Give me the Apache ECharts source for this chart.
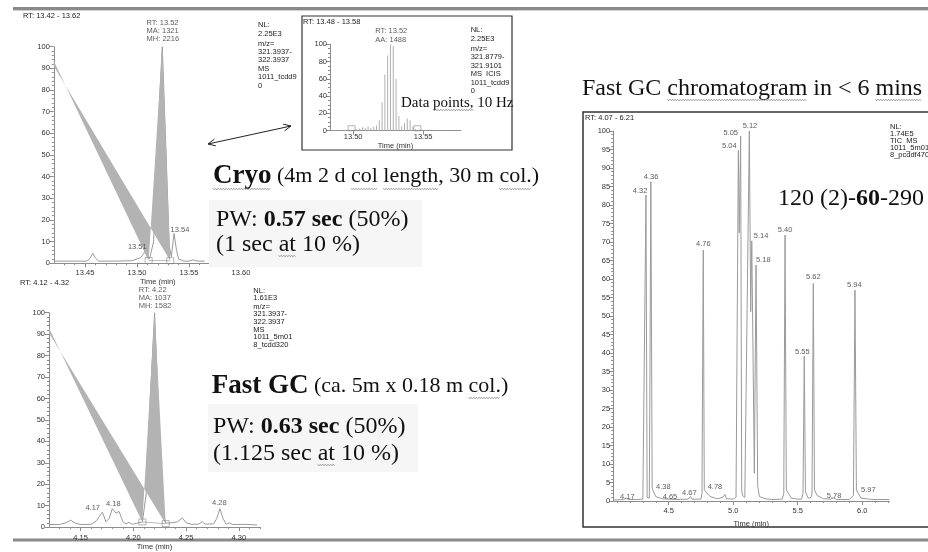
<!DOCTYPE html>
<html><head><meta charset="utf-8">
<script src="https://cdn.jsdelivr.net/npm/echarts@6/dist/echarts.min.js"></script>
<style>html,body{margin:0;padding:0;background:#fff}#c{width:928px;height:552px}</style>
</head><body><div id="c"></div><script>
// ---------- DATA ----------
// Cryo (13.42 - 13.62)
const cryoTrace = [[13.42,1.0],[13.44,1.0],[13.452,1.0],[13.455,2.5],[13.4575,4.6],[13.460,2.5],[13.463,1.0],[13.48,1.0],[13.495,1.2],[13.500,2.0],[13.503,2.5],[13.505,3.5],[13.5077,5.4],[13.510,3],[13.512,2],[13.516,10],[13.520,60],[13.5243,100],[13.528,50],[13.531,8],[13.533,3],[13.5356,13.8],[13.538,6],[13.540,2],[13.545,1.0],[13.550,1.0],[13.554,1.6],[13.558,1.0],[13.565,1.0]];
const cryoArea = [[13.42,93.4],[13.5112,1.3],[13.5243,100],[13.532,1.2],[13.42,91.1]];
const cryoBoxes = [[13.5112,1.3],[13.532,1.2]];
const cryoPeakLabels = [[13.5003,7.7,'13.51'],[13.5413,15.4,'13.54']];
const cryoInfo = [[13.5087,107.2,'RT: 13.52\nMA: 1321\nMH: 2216']];
const cryoTicks = [13.45,13.50,13.55,13.60];
const cryoMinor = [13.43,13.44,13.46,13.47,13.48,13.49,13.51,13.52,13.53,13.54,13.56,13.57,13.58,13.59,13.61,13.62];

// Fast GC (4.12 - 4.32)
const fastTrace = [[4.12,1.2],[4.13,1.2],[4.136,2],[4.1406,3.2],[4.145,1.8],[4.15,1.2],[4.16,1.3],[4.165,3],[4.1706,7],[4.174,2.5],[4.177,4],[4.18,8.6],[4.1835,6.5],[4.1864,7.3],[4.19,2.5],[4.193,1.5],[4.1958,2.2],[4.199,1.3],[4.203,1.8],[4.2085,2.4],[4.212,15],[4.216,60],[4.2201,100],[4.224,50],[4.228,8],[4.2306,1.8],[4.236,2],[4.242,2.5],[4.2464,4.3],[4.25,2],[4.255,1.3],[4.262,1.4],[4.2653,2.5],[4.268,1.4],[4.276,1.5],[4.279,4],[4.282,8.6],[4.285,4],[4.288,1.3],[4.291,2],[4.294,1.2],[4.305,1.3],[4.3174,1.0]];
const fastArea = [[4.12,92.9],[4.2085,2.4],[4.2201,100],[4.2306,1.6],[4.12,90.5]];
const fastBoxes = [[4.2085,2.4],[4.2306,1.6]];
const fastPeakLabels = [[4.1614,8.9,'4.17'],[4.1809,10.8,'4.18'],[4.2814,11.2,'4.28']];
const fastInfo = [[4.2046,106.9,'RT: 4.22\nMA: 1037\nMH: 1582']];
const fastTicks = [4.15,4.20,4.25,4.30];
const fastMinor = [4.13,4.14,4.16,4.17,4.18,4.19,4.21,4.22,4.23,4.24,4.26,4.27,4.28,4.29,4.31,4.32];

// Full fast GC chromatogram (4.07 - 6.21)
const ticTrace = [[4.07,0.3],[4.10,0.3],[4.15,0.4],[4.17,0.8],[4.19,0.4],[4.25,0.4],[4.30,0.5],[4.315,1],[4.324,82.7],[4.333,1.0],[4.350,0.8],[4.362,86.3],[4.372,3.5],[4.38,2.8],[4.40,1.2],[4.45,0.6],[4.55,0.4],[4.65,0.5],[4.67,1.2],[4.68,0.5],[4.75,0.5],[4.758,2],[4.768,67.8],[4.776,3],[4.785,2.5],[4.82,1.2],[4.88,0.6],[4.92,1.0],[4.935,1.8],[4.95,0.6],[5.00,0.5],[5.022,1],[5.040,94.8],[5.047,72.5],[5.058,98.6],[5.066,3],[5.072,1.5],[5.079,2],[5.09,1],[5.105,1.5],[5.125,100],[5.136,51.2],[5.144,70.3],[5.164,7.5],[5.177,63.8],[5.19,4],[5.203,1.2],[5.25,0.6],[5.30,0.4],[5.38,0.5],[5.392,2],[5.402,71.9],[5.412,3],[5.43,2],[5.45,0.8],[5.50,0.5],[5.53,0.5],[5.541,2],[5.551,39.2],[5.560,2.5],[5.58,0.8],[5.60,0.8],[5.611,2],[5.621,58.8],[5.630,3],[5.65,1.5],[5.70,0.6],[5.75,0.5],[5.78,0.8],[5.80,0.4],[5.90,0.4],[5.932,1.5],[5.944,57],[5.955,3],[5.97,2],[5.99,0.8],[6.05,0.5],[6.10,0.4],[6.21,0.4]];
const ticPeakLabels = [[4.278,83.8,'4.32'],[4.363,87.6,'4.36'],[4.981,99.5,'5.05'],[5.130,101.4,'5.12'],[4.970,95.9,'5.04'],[5.216,71.6,'5.14'],[5.402,73.2,'5.40'],[4.768,69.4,'4.76'],[5.233,65.1,'5.18'],[5.621,60.5,'5.62'],[5.939,58.4,'5.94'],[5.536,40.4,'5.55'],[4.179,1.2,'4.17'],[4.458,3.9,'4.38'],[4.510,1.2,'4.65'],[4.660,2.1,'4.67'],[4.859,3.7,'4.78'],[5.782,1.4,'5.78'],[6.048,3.0,'5.97']];
const ticTicks = [4.5,5.0,5.5,6.0];
const ticMinor = [4.1,4.2,4.3,4.4,4.6,4.7,4.8,4.9,5.1,5.2,5.3,5.4,5.6,5.7,5.8,5.9,6.1,6.2];

// Inset: data points at ~10 Hz (13.48 - 13.58)
const insetTimes = [13.4847,13.4867,13.4887,13.4907,13.4927,13.4947,13.4967,13.4987,13.5007,13.5027,13.5047,13.5067,13.5087,13.5107,13.5127,13.5147,13.5167,13.5187,13.5207,13.5227,13.5247,13.5267,13.5287,13.5307,13.5327,13.5347,13.5367,13.5387,13.5407,13.5427,13.5447,13.5467,13.5487,13.5507,13.5527,13.5547,13.5567,13.5587,13.5607,13.5627,13.5647,13.5667,13.5687,13.5707,13.5727,13.5747,13.5767];
const insetValues = [0.5,0.8,0.5,0.8,1,0.8,1.5,1.2,1.5,2,2.5,4,3,5,3.5,4.5,6,12,33,65,87,100,98,60,17,5,9,14,12,5,2,1,1.5,1,0.8,1,0.8,1,0.6,0.8,0.5,0.8,0.6,0.5,0.6,0.5,0.5];
const insetBoxes = [[13.4989,2.8],[13.5459,2.8]];
const insetInfo = [[13.5155,110.4,'RT: 13.52\nAA: 1488']];
const insetTicks = [13.50,13.55];

// ---------- STYLE ----------
const SANS = '"Liberation Sans", Arial, sans-serif';
const SERIF = '"Liberation Serif", "Times New Roman", serif';
const AX = '#8c8c8c', LBL = '#333', TRACE = '#9a9a9a', FILL = '#b3b3b3';

function xMain(grid, min, max, ticks, dec, margin, nameGap, extra) {
  return Object.assign({
    type: 'value', gridIndex: grid, min: min, max: max, position: 'bottom',
    axisLine: {show: true, onZero: false, lineStyle: {color: AX, width: 1}},
    axisTick: {show: true, customValues: ticks, length: 4, lineStyle: {color: AX}},
    axisLabel: {customValues: ticks, margin: margin, fontSize: 7.5, fontFamily: SANS, color: LBL,
      formatter: v => v.toFixed(dec)},
    splitLine: {show: false},
    name: 'Time (min)', nameLocation: 'middle', nameGap: nameGap,
    nameTextStyle: {fontSize: 7.5, fontFamily: SANS, color: LBL}
  }, extra || {});
}
function xMinor(grid, min, max, ticks) {
  return {type: 'value', gridIndex: grid, min: min, max: max, position: 'bottom',
    axisLine: {show: false}, axisTick: {show: true, customValues: ticks, length: 2, lineStyle: {color: AX}},
    axisLabel: {show: false}, splitLine: {show: false}};
}
function yAx(grid, interval, minorSplit, margin) {
  return {type: 'value', gridIndex: grid, min: 0, max: 100, interval: interval,
    axisLine: {show: true, lineStyle: {color: AX}},
    axisTick: {show: true, length: 4, lineStyle: {color: AX}},
    minorTick: {show: true, splitNumber: minorSplit, length: 2, lineStyle: {color: AX}},
    axisLabel: {margin: margin, fontSize: 7.5, fontFamily: SANS, color: LBL},
    splitLine: {show: false}, minorSplitLine: {show: false}};
}
function traceSeries(xi, yi, data) {
  return {type: 'line', xAxisIndex: xi, yAxisIndex: yi, data: data, symbol: 'none',
    lineStyle: {color: TRACE, width: 1}, silent: true, z: 2};
}
function areaSeries(xi, yi, pts) {
  return {type: 'custom', xAxisIndex: xi, yAxisIndex: yi, data: [pts[0]], clip: false, silent: true, z: 3,
    renderItem: (params, api) => ({type: 'polygon',
      shape: {points: pts.map(p => api.coord(p))}, style: {fill: FILL, stroke: null}})};
}
function boxSeries(xi, yi, pts) {
  return [{type: 'line', xAxisIndex: xi, yAxisIndex: yi, data: pts, symbol: 'none',
      lineStyle: {color: '#aaa', width: 0.8}, silent: true, z: 4},
    {type: 'scatter', xAxisIndex: xi, yAxisIndex: yi, data: pts, symbol: 'rect', symbolSize: [7, 6],
      itemStyle: {color: 'rgba(0,0,0,0)', borderColor: '#8a8a8a', borderWidth: 0.8}, silent: true, z: 4}];
}
function labelSeries(xi, yi, arr, pos) {
  return {type: 'scatter', xAxisIndex: xi, yAxisIndex: yi, symbolSize: 1, clip: false, silent: true, z: 6,
    itemStyle: {color: 'rgba(0,0,0,0)'},
    data: arr.map(d => ({value: [d[0], d[1]], name: d[2]})),
    label: {show: true, position: pos, distance: 0, formatter: p => p.name, fontSize: 7.5,
      fontFamily: SANS, color: LBL, lineHeight: 8.3, align: pos === 'right' ? 'left' : 'center'}};
}
// multi-line small text: y = centre of first line
function txt(x, y, text, size, lh) {
  lh = lh || (size + 0.9);
  return {type: 'text', x: x, y: y - lh / 2, z: 20, silent: true,
    style: {text: text, fontSize: size, fontFamily: SANS, fill: '#222',
      align: 'left', verticalAlign: 'top', lineHeight: lh}};
}
function serif(x, y, text, rich) {
  return {type: 'text', x: x, y: y, z: 20, silent: true,
    style: {text: text, rich: rich, fontFamily: SERIF, fill: '#111', align: 'left', verticalAlign: 'middle'}};
}
const R = (s, b) => ({fontFamily: SERIF, fontSize: s, fontWeight: b ? 'bold' : 'normal', fill: '#111', color: '#111'});

// spell-check style wavy underline under part of a serif line
const mctx = document.createElement('canvas').getContext('2d');
function tw(s, size, bold) { mctx.font = (bold ? 'bold ' : '') + size + 'px "Liberation Serif"'; return mctx.measureText(s).width; }
function wavy(x0, y0, parts, target, underY) {
  // parts: [[text,size,bold],...] in order; target: index of part and substring
  let x = x0;
  for (let i = 0; i < target[0]; i++) x += tw(parts[i][0], parts[i][1], parts[i][2]);
  const p = parts[target[0]];
  const pre = p[0].indexOf(target[1]);
  const xs = x + tw(p[0].slice(0, pre), p[1], p[2]);
  const w = tw(target[1], p[1], p[2]);
  const pts = [];
  let k = 0;
  for (let xx = xs; xx <= xs + w; xx += 1.3, k++) pts.push([xx, underY + (k % 2 ? 0.9 : -0.9)]);
  return {type: 'polyline', z: 21, silent: true, shape: {points: pts}, style: {stroke: '#8a8a8a', lineWidth: 0.7, fill: null}};
}
const cryoParts = [['Cryo', 27, true], [' (4m 2 d col length, 30 m col.)', 22, false]];
const cryoPW2 = [['(1 sec at 10 %)', 24, false]];
const fastParts = [['Fast GC', 27, true], [' (ca. 5m x 0.18 m col.)', 22, false]];
const fastPW2 = [['(1.125 sec at 10 %)', 24, false]];
const titleParts = [['Fast GC chromatogram in < 6 mins', 24, false]];
const dpParts = [['Data points, 10 Hz', 15, false]];

const chart = echarts.init(document.getElementById('c'), null, {renderer: 'canvas'});
chart.setOption({
  animation: false,
  backgroundColor: '#fff',
  grid: [
    {left: 53.8, top: 46.7, width: 208, height: 216.6},
    {left: 49, top: 312.7, width: 211, height: 215.8},
    {left: 613.2, top: 131, width: 276.1, height: 370},
    {left: 330, top: 44.3, width: 130.9, height: 86.4}
  ],
  xAxis: [
    xMain(0, 13.42, 13.62, cryoTicks, 2, 5.5, 15),
    xMinor(0, 13.42, 13.62, cryoMinor),
    xMain(1, 4.12, 4.32, fastTicks, 2, 7, 15.5, {}),
    xMinor(1, 4.12, 4.32, fastMinor),
    xMain(2, 4.07, 6.21, ticTicks, 1, 5.7, 15),
    xMinor(2, 4.07, 6.21, ticMinor),
    xMain(3, 13.4835, 13.577, insetTicks, 2, 2.5, 6)
  ],
  yAxis: [yAx(0, 10, 5, 4), yAx(1, 10, 5, 4), yAx(2, 5, 5, 3), yAx(3, 20, 4, 3)],
  series: [
    traceSeries(0, 0, cryoTrace), areaSeries(0, 0, cryoArea), ...boxSeries(0, 0, cryoBoxes),
    labelSeries(0, 0, cryoPeakLabels, 'inside'), labelSeries(0, 0, cryoInfo, 'right'),
    traceSeries(2, 1, fastTrace), areaSeries(2, 1, fastArea), ...boxSeries(2, 1, fastBoxes),
    labelSeries(2, 1, fastPeakLabels, 'inside'), labelSeries(2, 1, fastInfo, 'right'),
    traceSeries(4, 2, ticTrace), labelSeries(4, 2, ticPeakLabels, 'inside'),
    {type: 'bar', xAxisIndex: 6, yAxisIndex: 3, data: insetTimes.map((t, i) => [t, insetValues[i]]),
      barWidth: 1, itemStyle: {color: '#b0b0b0'}, silent: true, z: 2},
    {type: 'scatter', xAxisIndex: 6, yAxisIndex: 3, data: insetBoxes, symbol: 'rect', symbolSize: [7, 5],
      itemStyle: {color: 'rgba(0,0,0,0)', borderColor: '#8a8a8a', borderWidth: 0.8}, silent: true, z: 4},
    labelSeries(6, 3, insetInfo, 'right')
  ],
  graphic: [
    {type: 'rect', z: -5, silent: true, shape: {x: 13, y: 7, width: 915, height: 3}, style: {fill: '#8a8a8a'}},
    {type: 'rect', z: -5, silent: true, shape: {x: 13, y: 10, width: 915, height: 1}, style: {fill: '#d0d0d0'}},
    {type: 'rect', z: -5, silent: true, shape: {x: 13, y: 538.5, width: 915, height: 3}, style: {fill: '#8a8a8a'}},
    // boxes
    {type: 'rect', z: 1, silent: true, shape: {x: 583, y: 112, width: 360, height: 415}, style: {fill: 'none', stroke: '#333', lineWidth: 1.5}},
    {type: 'rect', z: 1, silent: true, shape: {x: 302, y: 16, width: 210, height: 134}, style: {fill: 'none', stroke: '#333', lineWidth: 1.2}},
    {type: 'rect', z: 15, silent: true, shape: {x: 209, y: 200, width: 213, height: 67}, style: {fill: '#f6f6f6'}},
    {type: 'rect', z: 15, silent: true, shape: {x: 208, y: 404, width: 210, height: 68}, style: {fill: '#f6f6f6'}},
    // arrow
    {type: 'line', z: 20, silent: true, shape: {x1: 208, y1: 144, x2: 291, y2: 126}, style: {stroke: '#222', lineWidth: 1}},
    {type: 'polyline', z: 20, silent: true, shape: {points: [[215.8, 145.8], [208, 144], [214.4, 139.2]]}, style: {stroke: '#222', lineWidth: 1, fill: null}},
    {type: 'polyline', z: 20, silent: true, shape: {points: [[283.2, 124.2], [291, 126], [284.6, 130.8]]}, style: {stroke: '#222', lineWidth: 1, fill: null}},
    // small texts
    txt(23, 15.7, 'RT: 13.42 - 13.62', 7.5),
    txt(20, 283.3, 'RT: 4.12 - 4.32', 7.5),
    txt(303, 22, 'RT: 13.48 - 13.58', 7.5),
    txt(585, 117.5, 'RT: 4.07 - 6.21', 7.5),
    txt(258, 25, 'NL:\n2.25E3', 7.5, 8.5),
    txt(258, 43.5, 'm/z=\n321.3937-\n322.3937\nMS\n1011_tcdd9\n0', 7.5, 8.4),
    txt(470.7, 30, 'NL:\n2.25E3', 7.5, 8.5),
    txt(470.7, 48.5, 'm/z=\n321.8779-\n321.9101\nMS  ICIS\n1011_tcdd9\n0', 7.5, 8.5),
    txt(253.3, 290.7, 'NL:\n1.61E3', 7.5, 7.6),
    txt(253.3, 306.7, 'm/z=\n321.3937-\n322.3937\nMS\n1011_5m01\n8_tcdd320', 7.5, 7.6),
    txt(890, 126.7, 'NL:\n1.74E5\nTIC  MS\n1011_5m01\n8_pcddf470', 7.5, 7.1),
    // serif headings
    serif(213, 176.5, '{b|Cryo}{r| (4m 2 d col length, 30 m col.)}', {b: R(27, true), r: R(22)}),
    serif(216, 220, '{r|PW: }{b|0.57 sec}{r| (50%)}', {b: R(24, true), r: R(24)}),
    serif(216, 245, '{r|(1 sec at 10 %)}', {r: R(24)}),
    serif(211.7, 386, '{b|Fast GC}{r| (ca. 5m x 0.18 m col.)}', {b: R(27, true), r: R(22)}),
    serif(213, 427, '{r|PW: }{b|0.63 sec}{r| (50%)}', {b: R(24, true), r: R(24)}),
    serif(213, 453.5, '{r|(1.125 sec at 10 %)}', {r: R(24)}),
    serif(582, 88.5, '{r|Fast GC chromatogram in < 6 mins}', {r: R(24)}),
    serif(778, 198.5, '{r|120 (2)-}{b|60}{r|-290}', {b: R(24, true), r: R(24)}),
    serif(401, 103, '{r|Data points, 10 Hz}', {r: R(15)}),
    // spell-check squiggles
    wavy(213, 0, cryoParts, [0, 'Cryo'], 189),
    wavy(213, 0, cryoParts, [1, 'col'], 189),
    wavy(213, 0, cryoParts, [1, 'length'], 189),
    wavy(213, 0, cryoParts, [1, 'col.'], 189),
    wavy(216, 0, cryoPW2, [0, 'at'], 256),
    wavy(211.7, 0, fastParts, [1, 'col.'], 398),
    wavy(213, 0, fastPW2, [0, 'at'], 465),
    wavy(582, 0, titleParts, [0, 'chromatogram'], 100),
    wavy(582, 0, titleParts, [0, 'mins'], 100),
    wavy(401, 0, dpParts, [0, 'points,'], 110)
  ]
});
</script></body></html>
